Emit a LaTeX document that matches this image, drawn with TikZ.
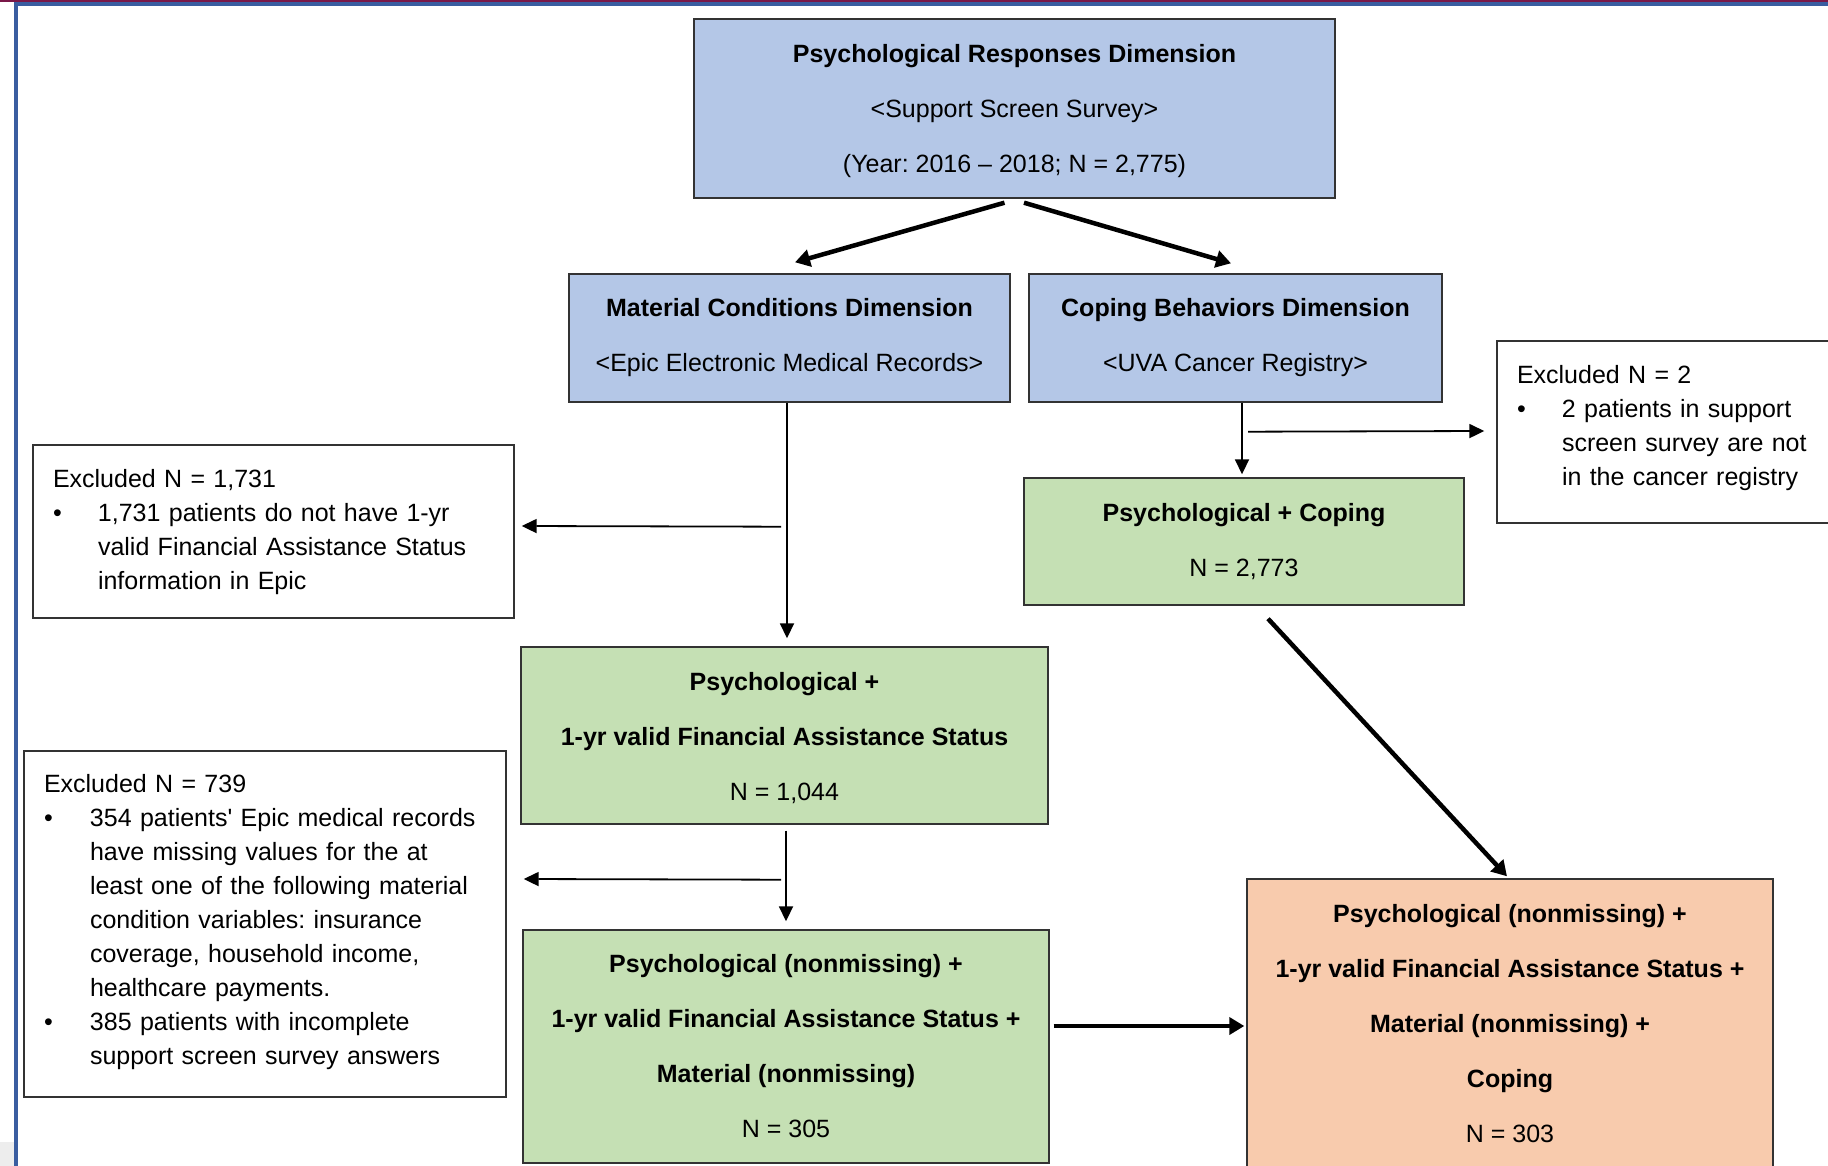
\documentclass[tikz,border=0pt]{standalone}
\usepackage{fontspec}
\setmainfont{Liberation Sans}
\usetikzlibrary{arrows.meta,calc}
\frenchspacing

\definecolor{dimblue}{HTML}{B4C7E7}
\definecolor{cohortgreen}{HTML}{C5E0B4}
\definecolor{finalorange}{HTML}{F8CBAD}
\definecolor{framemaroon}{HTML}{7A1848}
\definecolor{frameblue}{HTML}{3A5DA0}
\definecolor{edgegray}{HTML}{333333}

\begin{document}
\begin{tikzpicture}[x=1pt,y=-1pt,
  stagebox/.style={draw=edgegray, line width=1.4pt, inner sep=0pt, align=center,
    font=\fontsize{25}{55}\selectfont},
  dimbox/.style={stagebox, fill=dimblue},
  greenbox/.style={stagebox, fill=cohortgreen},
  orangebox/.style={stagebox, fill=finalorange},
  exclbox/.style={draw=edgegray, line width=1.4pt, fill=white, inner xsep=20pt,
    inner ysep=0pt, align=left, font=\fontsize{25}{34}\selectfont},
  thinarrow/.style={line width=1.8pt, -{Triangle[length=15pt,width=14pt]}},
  thickarrow/.style={line width=4.5pt, -{Triangle[length=15pt,width=17pt]}}]

\useasboundingbox (0,0) rectangle (1828,1166);
\fill[white] (0,0) rectangle (1828,1166);

% page frame
\fill[framemaroon] (0,0) rectangle (1828,2.5);
\fill[frameblue] (14,2.5) rectangle (1828,6);
\fill[frameblue] (14,2.5) rectangle (18,1166);
\fill[black!7] (0,1142) rectangle (13.7,1166);

% data sources
\node[dimbox, minimum width=641pt, minimum height=179pt] (psy) at (1014.5,108.5)
  {\rule{0pt}{24pt}{\bfseries Psychological Responses Dimension}\\
   <Support Screen Survey>\\
   (Year: 2016 – 2018; N = 2,775)};
\node[dimbox, minimum width=441pt, minimum height=128pt] (mat) at (789.5,338)
  {{\bfseries Material Conditions Dimension}\\
   <Epic Electronic Medical Records>};
\node[dimbox, minimum width=413pt, minimum height=128pt] (cop) at (1235.5,338)
  {{\bfseries Coping Behaviors Dimension}\\
   <UVA Cancer Registry>};

% merged cohorts
\node[greenbox, minimum width=440pt, minimum height=127pt] (pc) at (1244,541.5)
  {{\bfseries Psychological + Coping}\\
   N = 2,773};
\node[greenbox, minimum width=527pt, minimum height=177pt] (p1) at (784.5,735.5)
  {\rule{0pt}{22.5pt}{\bfseries Psychological +}\\
   {\bfseries 1-yr valid Financial Assistance Status}\\
   N = 1,044};
\node[greenbox, minimum width=526pt, minimum height=233pt] (pn) at (786,1046.5)
  {{\bfseries Psychological (nonmissing) +}\\
   {\bfseries 1-yr valid Financial Assistance Status +}\\
   {\bfseries Material (nonmissing)}\\
   N = 305};
\node[orangebox, minimum width=526pt, minimum height=290pt] (fin) at (1510,1024)
  {{\bfseries Psychological (nonmissing) +}\\
   {\bfseries 1-yr valid Financial Assistance Status +}\\
   {\bfseries Material (nonmissing) +}\\
   {\bfseries Coping}\\
   N = 303};

% exclusions
\node[exclbox, text width=441pt, minimum height=173pt] (ex1) at (273.5,531.5)
  {\noindent\begin{tabular}[t]{@{}l@{}l@{}}
   \multicolumn{2}{@{}l@{}}{Excluded N = 1,731}\\
   \makebox[45pt][l]{\textbullet} & 1,731 patients do not have 1-yr\\
    & valid Financial Assistance Status\\
    & information in Epic
   \end{tabular}};
\node[exclbox, text width=308pt, minimum height=182pt] (ex2) at (1671,432)
  {\noindent\begin{tabular}[t]{@{}l@{}l@{}}
   \multicolumn{2}{@{}l@{}}{Excluded N = 2}\\
   \makebox[45pt][l]{\textbullet} & 2 patients in support\\
    & screen survey are not\\
    & in the cancer registry\rule[-18pt]{0pt}{1pt}
   \end{tabular}};
\node[exclbox, text width=442pt, minimum height=346pt] (ex3) at (265,924)
  {\noindent\begin{tabular}[t]{@{}l@{}l@{}}
   \multicolumn{2}{@{}l@{}}{Excluded N = 739}\\
   \makebox[46pt][l]{\textbullet} & 354 patients\textquotesingle{} Epic medical records\\
    & have missing values for the at\\
    & least one of the following material\\
    & condition variables: insurance\\
    & coverage, household income,\\
    & healthcare payments.\\
   \textbullet & 385 patients with incomplete\\
    & support screen survey answers\rule[-15pt]{0pt}{1pt}
   \end{tabular}};

% connector end points
\coordinate (psyL) at ($(psy.south)+(-10,4)$);
\coordinate (psyR) at ($(psy.south)+(9.5,4)$);
\coordinate (matIn) at ($(mat.north)+(5.5,-11)$);
\coordinate (copIn) at ($(cop.north)+(-4.5,-10)$);
\coordinate (matOut) at ($(mat.south)+(-2.5,0)$);
\coordinate (p1In) at ($(p1.north)+(2.5,-8)$);
\coordinate (matSplit) at ($(mat.south)+(-8.5,124)$);
\coordinate (ex1In) at ($(ex1.east)+(7,-5.5)$);
\coordinate (copOut) at ($(cop.south)+(6.5,0)$);
\coordinate (pcIn) at ($(pc.north)+(-2,-3)$);
\coordinate (copSplit) at ($(cop.south)+(12.5,29)$);
\coordinate (ex2In) at ($(ex2.west)+(-12,-1)$);
\coordinate (pcOut) at ($(pc.south)+(24,13)$);
\coordinate (finTop) at ($(fin.north)+(-3,-2)$);
\coordinate (p1Out) at ($(p1.south)+(1.5,6)$);
\coordinate (pnIn) at ($(pn.north)+(0,-8)$);
\coordinate (p1Split) at ($(p1.south)+(-3.5,55)$);
\coordinate (ex3In) at ($(ex3.east)+(17,-45)$);
\coordinate (pnOut) at ($(pn.east)+(4,-20.5)$);
\coordinate (finLeft) at ($(fin.west)+(-2,2)$);

% connectors
\draw[thickarrow] (psyL) -- (matIn);
\draw[thickarrow] (psyR) -- (copIn);
\draw[thinarrow] (matOut) -- (p1In);
\draw[thinarrow] (matSplit) -- (ex1In);
\draw[thinarrow] (copOut) -- (pcIn);
\draw[thinarrow] (copSplit) -- (ex2In);
\draw[thickarrow] (pcOut) -- (finTop);
\draw[thinarrow] (p1Out) -- (pnIn);
\draw[thinarrow] (p1Split) -- (ex3In);
\draw[thickarrow] (pnOut) -- (finLeft);
\end{tikzpicture}
\end{document}
